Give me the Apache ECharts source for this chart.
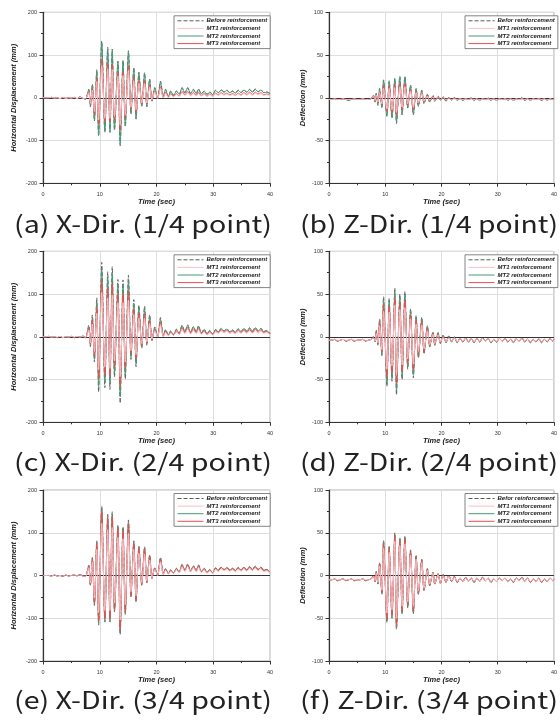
<!DOCTYPE html>
<html>
<head>
<meta charset="utf-8">
<script src="https://cdn.jsdelivr.net/npm/echarts@6/dist/echarts.min.js"></script>
<style>
html,body{margin:0;padding:0;background:#fff;}
#chart{width:560px;height:720px;}
</style>
</head>
<body>
<div id="chart"></div>
<script>
// ---------- shared time stamps (sec) of read-off extrema ----------
const timesX = [0,0.5,1,1.5,2,2.5,3,3.5,4,4.5,5,5.5,6,6.5,7,7.5,
  8.06,8.35,8.7,9.06,9.47,9.8,10.35,10.9,11.4,11.8,12.2,12.6,13.2,13.6,14.1,14.5,15.06,15.5,16.0,16.4,16.9,17.4,17.9,18.3,18.8,19.2,19.7,20.2,20.7,21.2,21.6,22.1,
  22.5,23.0,23.5,24.0,24.5,25.0,25.5,26.0,26.5,27.0,27.4,27.9,28.4,28.9,29.4,29.9,30.4,30.9,31.4,31.9,32.4,32.9,33.4,33.9,34.4,34.9,35.4,35.9,36.4,36.9,37.4,37.9,38.4,38.9,39.4,40];
const timesZ = [0,0.5,1,1.5,2,2.5,3,3.5,4,4.5,5,5.5,6,6.5,7,7.5,
  7.9,8.2,8.4,8.7,9.0,9.4,9.7,10.3,10.7,11.2,11.7,12.0,12.6,13.0,13.5,14.0,14.5,15.0,15.5,15.9,16.5,16.9,17.5,17.9,18.5,18.8,19.4,19.8,20.3,20.8,21.3,21.8,22.3,
  22.8,23.3,23.8,24.3,24.8,25.3,25.8,26.3,26.8,27.3,27.8,28.3,28.8,29.3,29.8,30.3,30.8,31.3,31.8,32.3,32.8,33.3,33.8,34.3,34.8,35.3,35.8,36.3,36.8,37.3,37.8,38.3,38.8,39.3,39.8,40];

// ---------- (a) X-Dir 1/4 point ----------
const a_before = [0,0,0,1,-1,0,-2,1,-2,0,-1,1,-2,2,-1,-3,
  20,-21,32,-54,66,-90,133,-81,118,-81,114,-76,86,-112,88,-68,110,-38,71,-50,60,-20,59,-21,44,-9,24,-2,39,2,20,3,
  16,6,16,8,24,12,24,10,20,10,21,9,16,8,14,7,18,12,19,14,18,12,16,11,18,12,19,13,20,13,21,14,19,12,14,10];
const a_mt1 = [0,0,0,1,-1,0,-2,1,-2,0,-1,1,-2,1,-1,-2,
  12,-13,18,-32,38,-52,75,-48,68,-48,66,-44,50,-64,52,-40,64,-22,40,-28,34,-12,33,-12,25,-5,14,-2,22,0,11,0,
  8,2,8,3,12,5,12,4,10,4,10,4,8,3,7,3,9,5,10,6,9,5,8,5,9,5,10,6,10,6,11,7,10,6,7,5];
const a_mt2 = [0,0,0,1,-1,0,-2,1,-2,0,-1,1,-2,2,-1,-3,
  19,-20,30,-52,63,-87,128,-78,114,-78,110,-73,83,-108,85,-65,106,-36,68,-48,57,-19,56,-20,42,-8,23,-2,37,2,19,3,
  15,6,15,8,23,11,23,10,19,10,20,9,15,8,13,7,17,12,18,13,17,12,15,11,17,12,18,13,19,13,20,14,18,12,13,10];
const a_mt3 = [0,0,0,1,-1,0,-2,1,-1,0,-1,1,-2,1,-1,-2,
  14,-15,22,-38,45,-62,90,-56,80,-56,78,-52,60,-76,60,-46,75,-26,48,-34,40,-14,40,-14,30,-6,16,-2,26,0,13,1,
  10,3,10,4,15,7,15,6,13,6,13,5,10,4,9,4,11,7,12,8,11,7,10,6,11,7,12,8,13,8,13,9,12,7,9,6];

// ---------- (c) X-Dir 2/4 point ----------
const c_before = [0,0,1,-1,0,-2,1,-2,0,-1,1,-2,1,-1,2,-2,
  27,-23,51,-59,91,-129,174,-119,152,-123,164,-94,134,-155,133,-99,144,-53,87,-70,74,-27,72,-20,52,-9,23,0,45,2,17,4,
  14,5,18,8,27,12,28,10,24,11,26,9,18,7,15,6,17,12,20,14,19,12,16,11,19,12,20,13,21,13,22,14,20,12,15,8];
const c_mt1 = [0,0,1,-1,0,-1,1,-2,0,-1,1,-1,1,-1,1,-2,
  16,-14,30,-35,55,-77,104,-71,91,-74,98,-56,80,-93,80,-59,86,-32,52,-42,44,-16,43,-12,31,-5,14,0,27,1,10,2,
  9,3,11,5,17,7,18,6,15,7,16,6,11,4,10,4,11,8,13,9,12,8,10,7,12,8,13,8,14,8,14,9,13,8,10,5];
const c_mt2 = [0,0,1,-1,0,-2,1,-2,0,-1,1,-2,1,-1,2,-2,
  24,-21,46,-53,82,-116,157,-107,137,-110,148,-85,121,-140,120,-89,130,-48,78,-63,67,-24,65,-18,47,-8,21,0,41,2,16,4,
  13,5,17,8,26,11,27,10,23,11,25,9,17,7,14,6,16,12,19,13,18,12,15,11,18,12,19,13,20,13,21,14,19,12,14,8];
const c_mt3 = [0,0,1,-1,0,-2,1,-2,0,-1,1,-2,1,-1,1,-2,
  20,-17,38,-44,68,-97,130,-89,114,-92,123,-70,100,-116,100,-74,108,-40,65,-52,55,-20,54,-15,39,-7,17,0,34,1,13,3,
  11,4,14,6,21,9,22,8,19,9,21,7,14,5,12,5,14,10,16,11,15,10,13,9,15,10,16,10,17,10,18,11,16,10,12,6];

// ---------- (e) X-Dir 3/4 point ----------
const e_before = [0,0,0,-1,1,-1,0,-2,1,-1,0,1,-1,2,-1,-2,
  24,-23,42,-70,81,-116,162,-109,143,-109,149,-85,118,-138,114,-91,130,-50,81,-62,69,-23,67,-17,48,-7,18,0,42,3,16,4,
  13,5,17,8,26,12,27,10,23,11,25,9,17,7,14,6,18,12,20,14,19,13,17,12,19,13,20,13,21,14,22,14,20,12,14,8];
const e_mt1 = [0,0,0,-1,1,-1,0,-1,1,-1,0,1,-1,1,-1,-2,
  18,-17,32,-53,61,-87,122,-82,107,-82,112,-64,89,-104,86,-68,98,-38,61,-47,52,-17,50,-13,36,-5,14,0,32,2,12,3,
  10,4,13,6,20,9,21,8,18,8,19,7,13,5,11,5,14,9,15,11,14,10,13,9,14,10,15,10,16,11,17,11,15,9,11,6];
const e_mt2 = [0,0,0,-1,1,-1,0,-2,1,-1,0,1,-1,2,-1,-2,
  23,-22,41,-68,79,-112,157,-106,139,-106,144,-82,114,-134,111,-88,126,-48,79,-60,67,-22,65,-16,47,-7,17,0,41,3,16,4,
  13,5,16,8,25,12,26,10,22,11,24,9,16,7,14,6,17,12,19,13,18,12,16,11,18,12,19,13,20,13,21,14,19,12,14,8];
const e_mt3 = [0,0,0,-1,1,-1,0,-2,1,-1,0,1,-1,2,-1,-2,
  22,-21,39,-65,75,-108,151,-101,133,-101,139,-79,110,-128,106,-85,121,-46,75,-58,64,-21,62,-16,45,-6,17,0,39,3,15,4,
  12,5,16,7,24,11,25,9,21,10,23,8,16,6,13,6,17,11,19,13,18,12,16,11,18,12,19,12,20,13,20,13,19,11,13,7];

// ---------- (b) Z-Dir 1/4 point ----------
const b_before = [-2,-2,-1,-2,-2,-1,-2,-3,-2,-1,-2,-2,-1,-2,-2,-1,
  3,-5,5,-9,11,-12,21,-22,20,-24,23,-30,25,-20,25,-12,15,-20,11,-10,9,-7,4,-5,3,-4,2,-3,1,-4,0,-3,0,
  -3,-1,-3,-1,-2,0,-3,-1,-3,-1,-2,0,-3,-1,-3,-1,-2,-1,-3,-1,-3,-1,-2,0,-3,-1,-3,-1,-2,-1,-3,-1,-3,-1,-2,-1];
const b_mt1 = [-2,-2,-1,-2,-2,-1,-2,-2,-2,-1,-2,-2,-1,-2,-2,-1,
  2,-3,3,-5,6,-7,11,-13,11,-14,12,-17,13,-11,13,-7,8,-11,6,-6,5,-4,2,-3,1,-3,0,-2,0,-2,-1,-2,-1,
  -2,-1,-2,-1,-2,-1,-2,-1,-3,-1,-2,-1,-2,-1,-3,-1,-2,-1,-2,-1,-3,-1,-2,-1,-2,-1,-3,-1,-2,-1,-2,-1,-3,-1,-2,-1];
const b_mt2 = [-2,-2,-1,-2,-2,-1,-2,-3,-2,-1,-2,-2,-1,-2,-2,-1,
  3,-5,5,-8,10,-11,20,-21,19,-23,22,-28,24,-19,24,-11,14,-19,10,-9,8,-6,4,-5,2,-4,1,-3,1,-3,0,-3,0,
  -3,-1,-3,-1,-2,0,-3,-1,-3,-1,-2,-1,-3,-1,-3,-1,-2,-1,-3,-1,-3,-1,-2,0,-3,-1,-3,-1,-2,-1,-3,-1,-3,-1,-2,-1];
const b_mt3 = [-2,-2,-1,-2,-2,-1,-2,-2,-2,-1,-2,-2,-1,-2,-2,-1,
  2,-4,3,-6,7,-8,14,-16,14,-17,16,-21,17,-14,17,-9,10,-14,7,-7,6,-5,3,-4,2,-3,1,-2,1,-3,0,-2,0,
  -2,-1,-2,-1,-2,-1,-2,-1,-3,-1,-2,-1,-2,-1,-3,-1,-2,-1,-2,-1,-3,-1,-2,-1,-2,-1,-3,-1,-2,-1,-2,-1,-3,-1,-2,-1];

// ---------- (d) Z-Dir 2/4 point ----------
const d_before = [-4,-4,-3,-5,-4,-3,-5,-4,-3,-5,-4,-4,-3,-5,-4,-3,
  0,-6,8,-10,21,-22,47,-58,45,-52,57,-68,50,-50,53,-38,33,-48,25,-25,23,-20,13,-12,6,-10,5,-8,2,-7,1,-6,0,
  -7,-2,-6,-1,-6,-2,-7,-2,-6,-1,-5,-2,-7,-3,-6,-2,-5,-2,-6,-3,-7,-2,-5,-1,-6,-2,-7,-3,-6,-2,-7,-3,-6,-2,-5,-3];
const d_mt1 = [-4,-4,-3,-4,-4,-3,-4,-4,-3,-4,-4,-4,-3,-4,-4,-3,
  -1,-5,4,-7,13,-15,30,-38,29,-34,37,-45,32,-33,34,-26,21,-32,15,-17,14,-14,7,-9,3,-8,2,-6,0,-6,-1,-5,-1,
  -6,-2,-5,-2,-5,-2,-6,-2,-5,-2,-5,-2,-6,-3,-5,-2,-5,-2,-5,-3,-6,-2,-5,-2,-5,-2,-6,-3,-5,-2,-6,-3,-5,-2,-5,-3];
const d_mt2 = [-4,-4,-3,-5,-4,-3,-5,-4,-3,-5,-4,-4,-3,-5,-4,-3,
  0,-6,7,-9,19,-21,43,-54,42,-48,53,-63,46,-47,49,-35,30,-45,23,-23,21,-19,12,-11,5,-9,4,-7,2,-7,1,-6,0,
  -7,-2,-6,-1,-6,-2,-7,-2,-6,-1,-5,-2,-7,-3,-6,-2,-5,-2,-6,-3,-7,-2,-5,-1,-6,-2,-7,-3,-6,-2,-7,-3,-6,-2,-5,-3];
const d_mt3 = [-4,-4,-3,-5,-4,-3,-5,-4,-3,-5,-4,-4,-3,-5,-4,-3,
  0,-5,6,-8,17,-18,38,-47,36,-42,46,-55,40,-41,43,-31,26,-39,20,-21,18,-17,10,-10,4,-9,3,-7,1,-6,0,-5,-1,
  -6,-2,-6,-2,-6,-2,-6,-2,-6,-2,-5,-2,-6,-3,-6,-2,-5,-2,-6,-3,-6,-2,-5,-2,-6,-2,-6,-3,-6,-2,-6,-3,-6,-2,-5,-3];

// ---------- (f) Z-Dir 3/4 point ----------
const f_before = [-5,-5,-4,-6,-5,-4,-6,-5,-4,-6,-5,-5,-4,-6,-5,-4,
  0,-7,5,-10,15,-22,41,-55,34,-50,50,-63,44,-45,46,-38,30,-45,24,-22,19,-18,8,-12,4,-10,2,-9,1,-8,0,-7,-1,
  -8,-3,-7,-2,-7,-3,-8,-3,-7,-2,-6,-3,-8,-4,-7,-3,-6,-3,-7,-4,-8,-3,-6,-2,-7,-3,-8,-4,-7,-3,-8,-4,-7,-3,-6,-4];
const f_mt1 = [-5,-5,-4,-5,-5,-4,-5,-5,-4,-5,-5,-5,-4,-5,-5,-4,
  -1,-6,3,-8,11,-17,32,-44,27,-40,40,-50,35,-36,37,-31,24,-36,19,-18,15,-15,6,-10,3,-9,1,-8,0,-7,-1,-6,-2,
  -7,-3,-7,-3,-7,-3,-7,-3,-7,-3,-6,-3,-7,-4,-7,-3,-6,-3,-7,-4,-7,-3,-6,-3,-7,-3,-7,-4,-7,-3,-7,-4,-7,-3,-6,-4];
const f_mt2 = [-5,-5,-4,-6,-5,-4,-6,-5,-4,-6,-5,-5,-4,-6,-5,-4,
  0,-7,5,-10,14,-21,40,-53,33,-48,48,-61,43,-44,45,-37,29,-44,23,-21,18,-17,8,-12,4,-10,2,-9,1,-8,0,-7,-1,
  -8,-3,-7,-2,-7,-3,-8,-3,-7,-2,-6,-3,-8,-4,-7,-3,-6,-3,-7,-4,-8,-3,-6,-2,-7,-3,-8,-4,-7,-3,-8,-4,-7,-3,-6,-4];
const f_mt3 = [-5,-5,-4,-6,-5,-4,-6,-5,-4,-6,-5,-5,-4,-6,-5,-4,
  0,-7,4,-9,14,-20,38,-51,32,-47,47,-59,41,-42,43,-35,28,-42,22,-21,18,-17,7,-11,3,-10,2,-9,1,-8,0,-7,-1,
  -8,-3,-7,-2,-7,-3,-8,-3,-7,-2,-6,-3,-8,-4,-7,-3,-6,-3,-7,-4,-8,-3,-6,-2,-7,-3,-8,-4,-7,-3,-8,-4,-7,-3,-6,-4];

// ---------- labels ----------
const namesX = ['Before reinforcement','MT1 reinforcement','MT2 reinforcement','MT3 reinforcement'];
const namesZ = ['Befor reinforcement','MT1 reinforcement','MT2 reinforcement','MT3 reinforcement'];
const yTitleX = 'Horizontal Displacement (mm)';
const yTitleZ = 'Deflection (mm)';
const xTitle = 'Time (sec)';
const captions = ['(a) X-Dir. (1/4 point)','(b) Z-Dir. (1/4 point)',
                  '(c) X-Dir. (2/4 point)','(d) Z-Dir. (2/4 point)',
                  '(e) X-Dir. (3/4 point)','(f) Z-Dir. (3/4 point)'];

// ---------- layout / style ----------
const colLeft = [43, 329];
const rowTop = [12.3, 251.3, 490];
const capY = [223.5, 461.5, 700];
const capX = [143, 429];
const capW = 258;
const PW = 227, PH = 171;
const colors = {before:'#5a5a5a', mt1:'#ffbcc6', mt2:'#4a9a78', mt3:'#f24c4c'};
const FONT = '"Liberation Sans", Arial, sans-serif';
const CAPFONT = '24px "Noto Sans CJK KR", sans-serif';

const panels = [
  {r:0,c:0,t:timesX,n:namesX,yt:yTitleX,ymax:200,yint:100,d:[a_before,a_mt1,a_mt2,a_mt3]},
  {r:0,c:1,t:timesZ,n:namesZ,yt:yTitleZ,ymax:100,yint:50, d:[b_before,b_mt1,b_mt2,b_mt3]},
  {r:1,c:0,t:timesX,n:namesX,yt:yTitleX,ymax:200,yint:100,d:[c_before,c_mt1,c_mt2,c_mt3]},
  {r:1,c:1,t:timesZ,n:namesZ,yt:yTitleZ,ymax:100,yint:50, d:[d_before,d_mt1,d_mt2,d_mt3]},
  {r:2,c:0,t:timesX,n:namesX,yt:yTitleX,ymax:200,yint:100,d:[e_before,e_mt1,e_mt2,e_mt3]},
  {r:2,c:1,t:timesZ,n:namesZ,yt:yTitleZ,ymax:100,yint:50, d:[f_before,f_mt1,f_mt2,f_mt3]}
];

const zip = (t, v) => t.map((x, i) => [x, v[i]]);
const mctx = document.createElement('canvas').getContext('2d');
mctx.font = CAPFONT;

const grid = [], xAxis = [], yAxis = [], series = [], legend = [], graphic = [];
panels.forEach((p, i) => {
  const left = colLeft[p.c], top = rowTop[p.r];
  grid.push({left:left, top:top, width:PW, height:PH, show:true, borderColor:'#b0b0b0', borderWidth:1, backgroundColor:'#fff'});
  const axisCommon = {
    gridIndex:i,
    axisLine:{show:true, onZero:false, lineStyle:{color:'#333', width:1.2}},
    axisTick:{show:true, inside:false, length:3.5, lineStyle:{color:'#333', width:1}},
    minorTick:{show:true, splitNumber:2, length:2, lineStyle:{color:'#333', width:1}},
    splitLine:{show:true, lineStyle:{color:'#dedede', width:1}},
    axisLabel:{fontSize:5.5, color:'#333', fontFamily:FONT},
    nameLocation:'middle',
    nameTextStyle:{fontSize:7.5, fontStyle:'italic', fontWeight:'bold', color:'#222', fontFamily:FONT}
  };
  xAxis.push(Object.assign({}, axisCommon, {type:'value', min:0, max:40, interval:10, name:xTitle, nameGap:14,
    axisLabel:Object.assign({}, axisCommon.axisLabel, {margin:8})}));
  yAxis.push(Object.assign({}, axisCommon, {type:'value', min:-p.ymax, max:p.ymax, interval:p.yint, name:p.yt,
    nameGap: p.c === 0 ? 25 : 22, nameRotate:90,
    axisLabel:Object.assign({}, axisCommon.axisLabel, {margin:6})}));

  const order = [[0,colors.before,'dashed'],[2,colors.mt2,'solid'],[3,colors.mt3,'solid'],[1,colors.mt1,'solid']];
  order.forEach(([k, col, ty], j) => {
    const s = {
      type:'line', name:p.n[k], xAxisIndex:i, yAxisIndex:i,
      data:zip(p.t, p.d[k]), showSymbol:false, symbol:'none', smooth:0.25,
      lineStyle:{color:col, width:1, type: ty === 'dashed' ? [4,2] : 'solid'},
      itemStyle:{color:col}, animation:false, silent:true, z:2+j
    };
    if (j === order.length - 1) {
      s.markLine = {silent:true, symbol:['none','none'], label:{show:false}, animation:false,
        lineStyle:{color:'#333', type:'solid', width:1}, data:[{yAxis:0}]};
    }
    series.push(s);
  });

  legend.push({
    orient:'vertical', left:left + (p.c === 0 ? 131 : 136), top:top + 3.5,
    data:p.n, itemWidth:26, itemHeight:6, itemGap:1.6, padding:[2,3,2,3],
    borderColor:'#666', borderWidth:0.8, backgroundColor:'#fff', selectedMode:false,
    itemStyle:{opacity:0},
    lineStyle:{width:1},
    textStyle:{fontSize:6, fontStyle:'italic', fontWeight:'bold', color:'#222', fontFamily:FONT, padding:[0,0,0,-2]},
    z:10
  });

  const w = mctx.measureText(captions[i]).width || capW;
  graphic.push({type:'text', x:capX[p.c], y:capY[p.r], scaleX:capW / w, scaleY:1,
    style:{text:captions[i], fill:'#222', font:CAPFONT, textAlign:'center', textVerticalAlign:'middle'}});
});

const chart = echarts.init(document.getElementById('chart'), null, {renderer:'canvas'});
chart.setOption({backgroundColor:'#fff', animation:false, grid, xAxis, yAxis, series, legend, graphic});
</script>
</body>
</html>
